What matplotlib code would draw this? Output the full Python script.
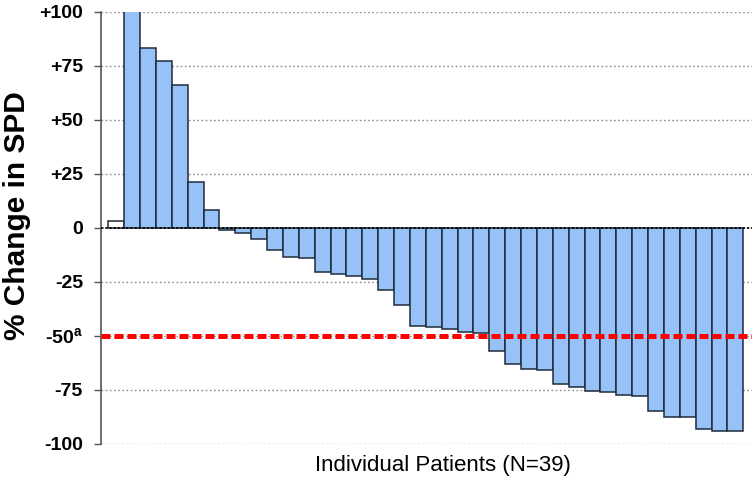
import matplotlib
matplotlib.use("Agg")
import matplotlib.pyplot as plt
import numpy as np

# Data: % change in SPD per patient (first bar is the open/white one)
values = [3.1, 110, 83.5, 77.3, 66.2, 21.3, 8.2, -0.8, -2.5, -5.2,
          -10.0, -13.6, -14.0, -20.2, -21.1, -22.1, -23.8, -28.9, -35.8, -45.4,
          -45.8, -46.9, -48.2, -48.8, -57.1, -62.8, -65.1, -65.6, -72.2, -73.6,
          -75.3, -75.8, -77.2, -77.8, -84.9, -87.3, -87.3, -93.2, -94.0, -94.0]
open_bars = [0]
ytick_values = [100, 75, 50, 25, 0, -25, -50, -75, -100]
ytick_labels = ["+100", "+75", "+50", "+25", "0", "-25", "-50$^{\\mathregular{a}}$", "-75", "-100"]
threshold = -50

plt.rcParams['font.family'] = ['Liberation Sans', 'DejaVu Sans']

W, H = 755, 487
fig = plt.figure(figsize=(W / 100, H / 100), dpi=100)
ax = fig.add_axes([0.1338, 0.0883, 0.996 - 0.1338, 0.9754 - 0.0883])

x = np.arange(len(values))
colors = ['white' if i in open_bars else '#96C2F7' for i in range(len(values))]
ax.bar(x, values, width=1.0, color=colors, edgecolor='#1E2B3A', linewidth=1.1, zorder=3)

ax.set_ylim(-100, 100)
ax.set_xlim(-0.96, 40.05)

# gridlines
for v in ytick_values:
    if v == 0:
        ax.axhline(0, color='black', lw=1.2, ls=(0, (1.5, 1.0)), zorder=4)
    else:
        ax.axhline(v, color='#8c8c8c', lw=1.0, ls=(0, (1.2, 1.8)), zorder=1)

ax.axhline(threshold, color='#FF0000', lw=3.6, ls=(0, (1.8, 0.8)), zorder=5)

ax.set_yticks(ytick_values)
ax.set_yticklabels(ytick_labels, fontsize=14, fontweight='bold')
ax.tick_params(axis='y', direction='out', length=5, width=1, color='#555555', pad=8)
ax.set_xticks([])

for s in ['top', 'right', 'bottom']:
    ax.spines[s].set_visible(False)
ax.spines['left'].set_color('#555555')
ax.spines['left'].set_linewidth(1.2)

fig.text(17 / W, 1 - 216 / H, '% Change in SPD', rotation=90, fontsize=21.5,
         fontweight='bold', ha='center', va='center')
fig.text(443 / W, 1 - 466 / H, 'Individual Patients (N=39)', fontsize=16,
         ha='center', va='center')

fig.savefig('out.png', dpi=100)
